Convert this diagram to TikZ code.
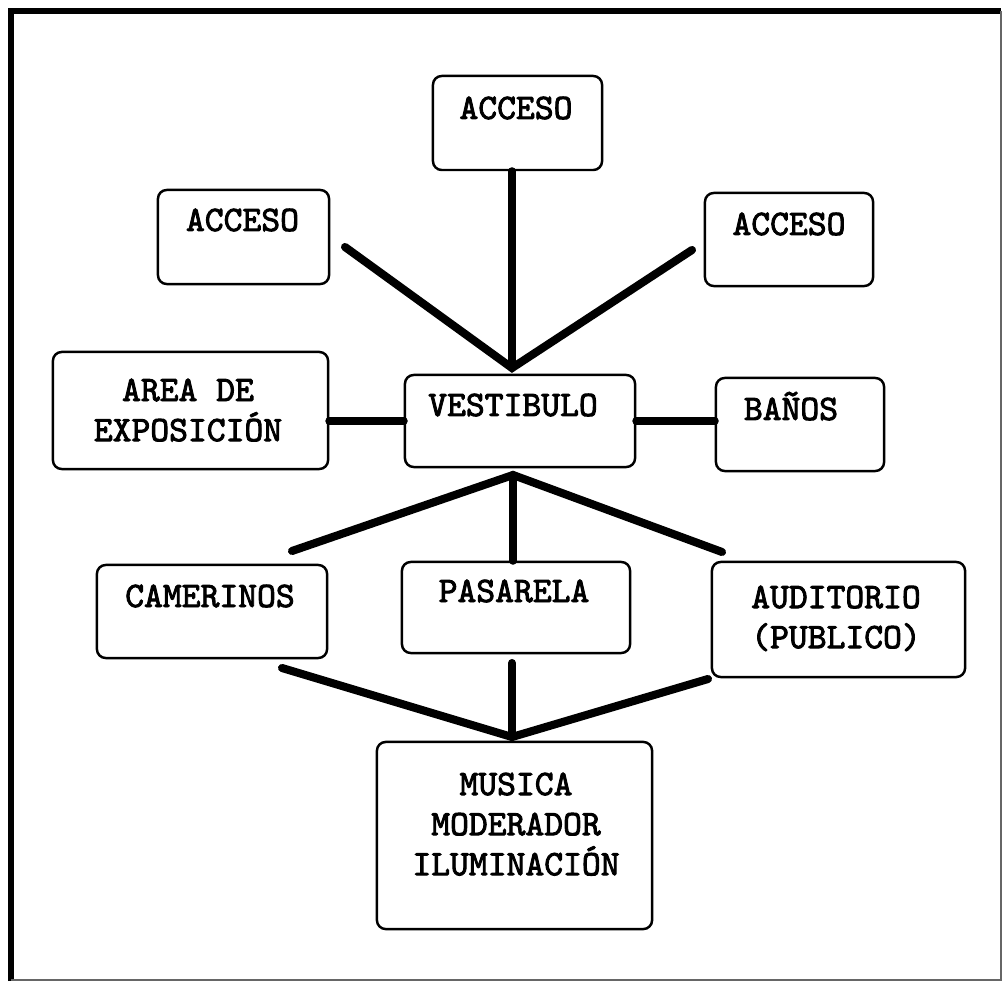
\documentclass[tikz,border=0pt]{standalone}
\usepackage{fontspec}
\setmonofont[AutoFakeBold=2.5]{Latin Modern Mono}
\usetikzlibrary{shapes,arrows}
\tikzstyle{room} = [draw, rectangle, rounded corners=2.5pt, line width=0.7pt, inner sep=0pt]
\tikzstyle{roomtext} = [font=\ttfamily\bfseries\fontsize{10.2}{11.4}\selectfont, inner sep=0pt, align=center]
\tikzstyle{conn} = [line width=2.3pt, line cap=round]

\begin{document}
\begin{tikzpicture}[x=0.01cm, y=-0.01cm]
    \useasboundingbox (0,0) rectangle (1004,983);
    % Frame
    \draw [line width=1.9pt] (11,981) -- (11,11) -- (1001,11);
    \draw [line width=0.5pt, black!60] (1001,11) -- (1001,980) -- (11,980);
    % Define the rooms
    \node [room, minimum width=1.69cm, minimum height=0.94cm] (accT) at (517.5,123) {};
    \node [room, minimum width=1.71cm, minimum height=0.94cm] (accL) at (243.5,237) {};
    \node [room, minimum width=1.68cm, minimum height=0.93cm] (accR) at (789,239.5) {};
    \node [room, minimum width=2.75cm, minimum height=1.17cm] (area) at (190.5,410.5) {};
    \node [room, minimum width=2.30cm, minimum height=0.92cm] (vest) at (520,421) {};
    \node [room, minimum width=1.68cm, minimum height=0.93cm] (banos) at (800,424.5) {};
    \node [room, minimum width=2.30cm, minimum height=0.93cm] (cam) at (212,611.5) {};
    \node [room, minimum width=2.28cm, minimum height=0.91cm] (pas) at (516,607.5) {};
    \node [room, minimum width=2.53cm, minimum height=1.15cm] (aud) at (838.5,619.5) {};
    \node [room, minimum width=2.75cm, minimum height=1.87cm] (mus) at (514.5,835.5) {};
    % Labels
    \node [roomtext, anchor=base] (accTtext) at (516,119) {ACCESO};
    \node [roomtext, anchor=base] (accLtext) at (242.5,231) {ACCESO};
    \node [roomtext, anchor=base] (accRtext) at (789,235) {ACCESO};
    \node [roomtext, anchor=north] (areatext) at (188,378) {AREA DE\\EXPOSICIÓN};
    \node [roomtext, anchor=base] (vesttext) at (513,416) {VESTIBULO};
    \node [roomtext, anchor=base] (banostext) at (791,420) {BAÑOS};
    \node [roomtext, anchor=base] (camtext) at (210,607) {CAMERINOS};
    \node [roomtext, anchor=base] (pastext) at (514,602) {PASARELA};
    \node [roomtext, anchor=north] (audtext) at (836,585) {AUDITORIO\\(PUBLICO)};
    \node [roomtext, anchor=north] (mustext) at (516,772) {MUSICA\\MODERADOR\\ILUMINACIÓN};
    % Hubs and free ends
    \coordinate (hubA) at (512,368);
    \coordinate (hubB) at (513,475);
    \coordinate (hubC) at (512,737);
    \coordinate (fromL) at (345,247);
    \coordinate (fromR) at (692,250);
    \coordinate (toCam) at (292,551);
    \coordinate (toAud) at (722,552);
    \coordinate (upCam) at (282,668);
    \coordinate (upPas) at (512,663);
    \coordinate (upAud) at (708,679);
    % Connect the rooms
    \draw [conn] (accT.south -| hubA) -- (hubA);
    \draw [conn] (fromL) -- (hubA) -- (fromR);
    \draw [conn] (area.east |- vest.west) -- (vest.west);
    \draw [conn] (vest.east) -- (vest.east -| banos.west);
    \draw [conn] (toCam) -- (hubB) -- (toAud);
    \draw [conn] (hubB) -- (hubB |- pas.north);
    \draw [conn] (upCam) -- (hubC) -- (upAud);
    \draw [conn] (upPas) -- (hubC);
\end{tikzpicture}
\end{document}
